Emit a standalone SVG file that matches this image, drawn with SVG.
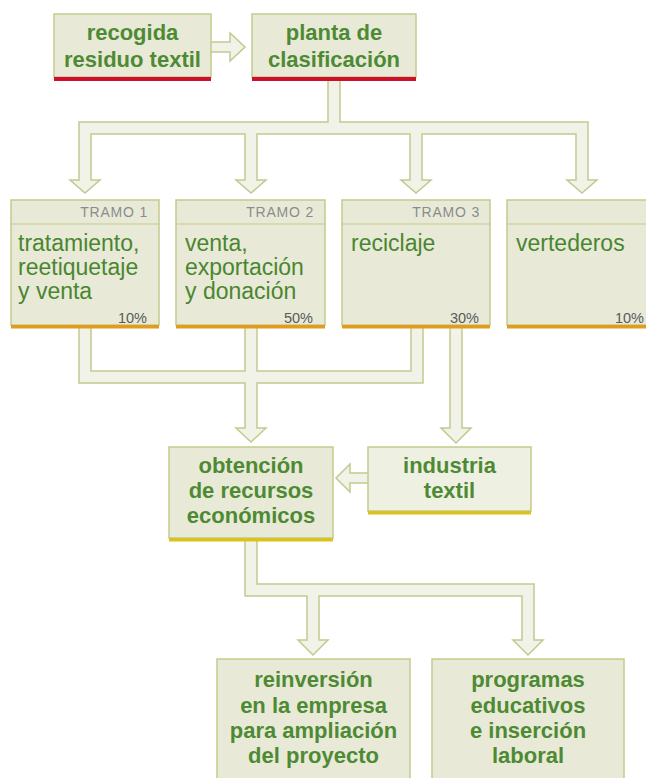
<svg xmlns="http://www.w3.org/2000/svg" width="646" height="778" viewBox="0 0 646 778">
<style>
.box{fill:#e8ead7;stroke:#c4ca8c;stroke-width:1.5}
.lite{fill:#eef0e2;stroke:#c4ca8c;stroke-width:1.5}
.conn{fill:#f1f3e8;stroke:#c3c98e;stroke-width:1.5;stroke-linejoin:miter}
.red{fill:#d0102a}
.orange{fill:#e39b1b}
.yellow{fill:#dcc21c}
.div{stroke:#c4ca8c;stroke-width:1.2}
.tb{font-family:"Liberation Sans",Arial,sans-serif;font-weight:bold;font-size:22px;fill:#4e8a34;text-anchor:middle}
.tr{font-family:"Liberation Sans",Arial,sans-serif;font-size:23px;fill:#4a8630}
.tramo{font-family:"Liberation Sans",Arial,sans-serif;font-size:14px;letter-spacing:0.8px;fill:#8c8c8c;text-anchor:end}
.pct{font-family:"Liberation Sans",Arial,sans-serif;font-size:14.5px;fill:#5a5a5a;text-anchor:end}
</style>
<rect width="646" height="778" fill="#ffffff"/>
<g id="connectors">
<path class="conn" d="M209,42 H230 V33 L245,47 L230,61 V52 H209 Z"/>
<path class="conn" d="M328,80 V122 H79 V180 H70 L85,193 L100,180 H91 V134 H245 V180 H236 L251,193 L266,180 H257 V134 H410 V180 H401 L416,193 L431,180 H422 V134 H576 V180 H567 L582,193 L597,180 H588 V122 H340 V80 Z"/>
<path class="conn" d="M79,327 V383 H245 V428 H236 L251,442 L266,428 H257 V383 H423 V327 H411 V371 H257 V327 H245 V371 H91 V327 Z"/>
<path class="conn" d="M450,327 V428 H441 L456,443 L471,428 H462 V327 Z"/>
<path class="conn" d="M369,473 H350 V464 L336,478 L350,492 V483 H369 Z"/>
<path class="conn" d="M245,540 V596 H307 V640 H298 L313,655 L328,640 H319 V596 H522 V640 H513 L528,655 L543,640 H534 V584 H257 V540 Z"/>
</g>
<g id="recogida">
<rect class="box" x="54" y="14" width="157" height="63"/>
<rect class="red" x="54" y="77" width="157" height="4"/>
<text class="tb" x="132.5" y="40">recogida</text>
<text class="tb" x="132.5" y="66.5">residuo textil</text>
</g>
<g id="planta">
<rect class="box" x="252" y="14" width="164" height="63"/>
<rect class="red" x="252" y="77" width="164" height="4"/>
<text class="tb" x="334" y="40">planta de</text>
<text class="tb" x="334" y="66.5">clasificación</text>
</g>
<g id="tramo1">
<rect class="box" x="11" y="200" width="148" height="125"/>
<line class="div" x1="11" y1="224" x2="159" y2="224"/>
<rect class="orange" x="11" y="325" width="148" height="3.5"/>
<text class="tramo" x="148" y="217">TRAMO 1</text>
<text class="tr" x="18" y="251">tratamiento,</text>
<text class="tr" x="18" y="275">reetiquetaje</text>
<text class="tr" x="18" y="299">y venta</text>
<text class="pct" x="147" y="323">10%</text>
</g>
<g id="tramo2">
<rect class="box" x="176" y="200" width="149" height="125"/>
<line class="div" x1="176" y1="224" x2="325" y2="224"/>
<rect class="orange" x="176" y="325" width="149" height="3.5"/>
<text class="tramo" x="314" y="217">TRAMO 2</text>
<text class="tr" x="185" y="251">venta,</text>
<text class="tr" x="185" y="275">exportación</text>
<text class="tr" x="185" y="299">y donación</text>
<text class="pct" x="313" y="323">50%</text>
</g>
<g id="tramo3">
<rect class="box" x="342" y="200" width="148" height="125"/>
<line class="div" x1="342" y1="224" x2="490" y2="224"/>
<rect class="orange" x="342" y="325" width="148" height="3.5"/>
<text class="tramo" x="480" y="217">TRAMO 3</text>
<text class="tr" x="351" y="251">reciclaje</text>
<text class="pct" x="479" y="323">30%</text>
</g>
<g id="vertederos">
<rect class="box" x="507" y="200" width="150" height="125"/>
<line class="div" x1="507" y1="224" x2="657" y2="224"/>
<rect class="orange" x="507" y="325" width="150" height="3.5"/>
<text class="tr" x="516" y="251">vertederos</text>
<text class="pct" x="644" y="323">10%</text>
</g>
<g id="obtencion">
<rect class="box" x="169" y="447" width="164" height="91"/>
<rect class="yellow" x="169" y="538" width="164" height="3.5"/>
<text class="tb" x="251" y="473">obtención</text>
<text class="tb" x="251" y="498">de recursos</text>
<text class="tb" x="251" y="523">económicos</text>
</g>
<g id="industria">
<rect class="lite" x="368" y="447" width="163" height="64"/>
<rect class="yellow" x="368" y="511" width="163" height="3.5"/>
<text class="tb" x="449.5" y="473">industria</text>
<text class="tb" x="449.5" y="498">textil</text>
</g>
<g id="reinversion">
<rect class="box" x="217" y="659" width="193" height="130"/>
<text class="tb" x="313.5" y="687">reinversión</text>
<text class="tb" x="313.5" y="712.5">en la empresa</text>
<text class="tb" x="313.5" y="738">para ampliación</text>
<text class="tb" x="313.5" y="763">del proyecto</text>
</g>
<g id="programas">
<rect class="box" x="432" y="659" width="192" height="130"/>
<text class="tb" x="528" y="687">programas</text>
<text class="tb" x="528" y="712.5">educativos</text>
<text class="tb" x="528" y="738">e inserción</text>
<text class="tb" x="528" y="763">laboral</text>
</g>
</svg>
